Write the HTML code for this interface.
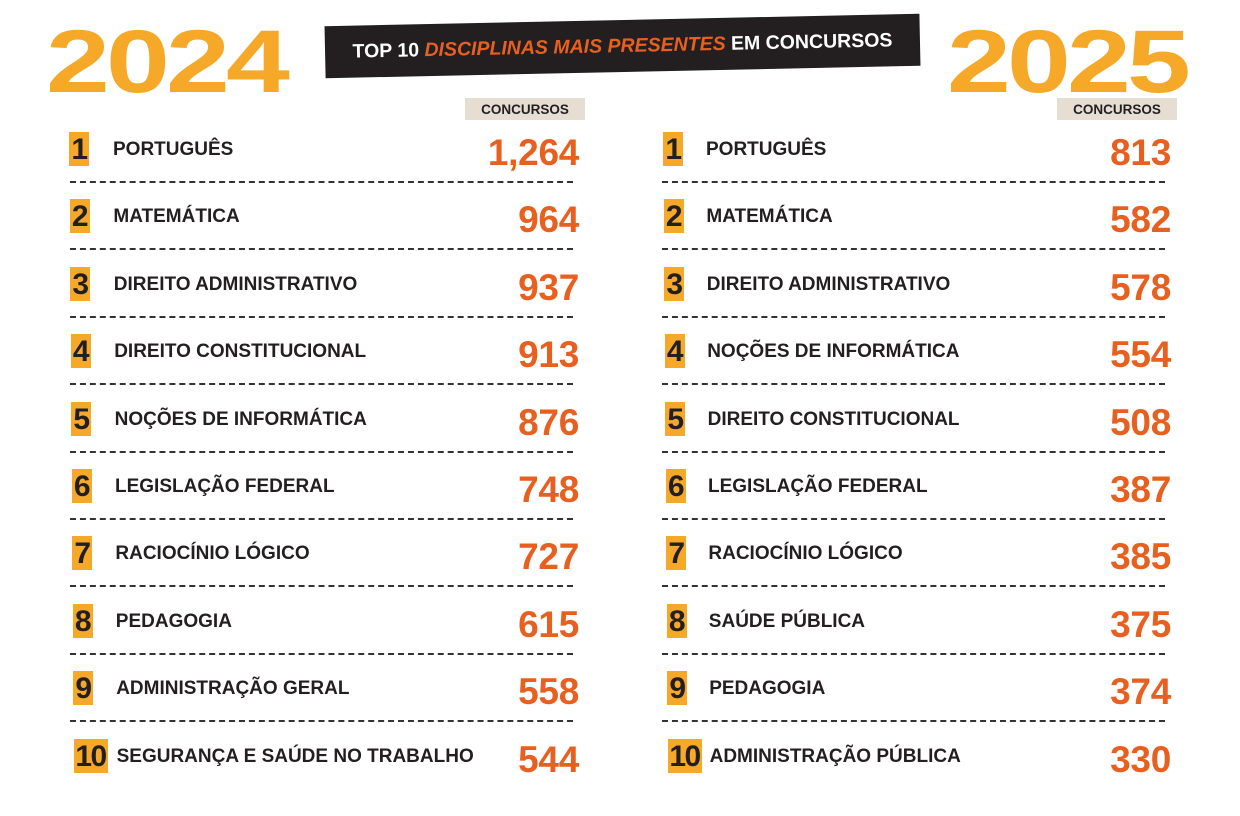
<!DOCTYPE html>
<html><head><meta charset="utf-8"><style>
body{margin:0;width:1240px;height:816px;background:#fff;position:relative;overflow:hidden;font-family:"Liberation Sans",sans-serif}
.a{position:absolute}
.yr{font-size:89px;font-weight:bold;color:#f6a928;letter-spacing:-3px;line-height:1;transform:scaleX(1.29);transform-origin:left top}
.ban{left:325px;top:20px;width:595px;height:52px;background:#231f20;transform:rotate(-1.2deg);color:#fff;font-weight:bold;font-size:19.5px;line-height:52px;text-align:center;letter-spacing:0px}
.ban i{color:#e8601f}
.tag{height:22px;background:#e6ddd3;font-size:13.5px;font-weight:bold;color:#231f20;line-height:23px;text-align:center;width:120px}
.box{background:#f6a928;height:34px;font-size:30px;font-weight:bold;color:#231f20;line-height:35px;text-align:center;letter-spacing:-1.5px}
.lb{font-size:19px;font-weight:bold;color:#231f20;letter-spacing:0px;line-height:20px;white-space:nowrap}
.v{font-size:37px;font-weight:bold;color:#e8601f;line-height:38px;text-align:right;width:200px;letter-spacing:-0.3px}
.d{height:0;border-top:2px dashed #333}
</style></head><body>
<div class="a yr" style="left:46px;top:17px">2024</div>
<div class="a yr" style="left:947px;top:17px">2025</div>
<div class="a ban"><span>TOP 10 <i>DISCIPLINAS MAIS PRESENTES</i> EM CONCURSOS</span></div>
<div class="a tag" style="left:465px;top:98px">CONCURSOS</div>
<div class="a tag" style="left:1057px;top:98px">CONCURSOS</div>
<div id="c"></div>
<script>
var L=[["PORTUGUÊS","1,264"],["MATEMÁTICA","964"],["DIREITO ADMINISTRATIVO","937"],["DIREITO CONSTITUCIONAL","913"],["NOÇÕES DE INFORMÁTICA","876"],["LEGISLAÇÃO FEDERAL","748"],["RACIOCÍNIO LÓGICO","727"],["PEDAGOGIA","615"],["ADMINISTRAÇÃO GERAL","558"],["SEGURANÇA E SAÚDE NO TRABALHO","544"]];
var R=[["PORTUGUÊS","813"],["MATEMÁTICA","582"],["DIREITO ADMINISTRATIVO","578"],["NOÇÕES DE INFORMÁTICA","554"],["DIREITO CONSTITUCIONAL","508"],["LEGISLAÇÃO FEDERAL","387"],["RACIOCÍNIO LÓGICO","385"],["SAÚDE PÚBLICA","375"],["PEDAGOGIA","374"],["ADMINISTRAÇÃO PÚBLICA","330"]];
var h="";
function col(D,bx,lx,vr,dl,dr){for(var i=0;i<10;i++){var cy=148+i*67.4;var w=i==9?34:20;var x=bx+i*0.5;
h+='<div class="a box" style="left:'+x+'px;top:'+(cy-16)+'px;width:'+w+'px">'+(i+1)+'</div>';
h+='<div class="a lb" style="left:'+(lx+i*0.4)+'px;top:'+(cy-8)+'px">'+D[i][0]+'</div>';
h+='<div class="a v" style="left:'+(vr-200)+'px;top:'+(cy-14)+'px">'+D[i][1]+'</div>';
if(i<9)h+='<div class="a d" style="left:'+dl+'px;top:'+(181+i*67.4)+'px;width:'+(dr-dl)+'px"></div>';}}
col(L,69,113,579,70,573);col(R,663,706,1171,662,1165);
document.getElementById("c").innerHTML=h;
</script>
</body></html>
